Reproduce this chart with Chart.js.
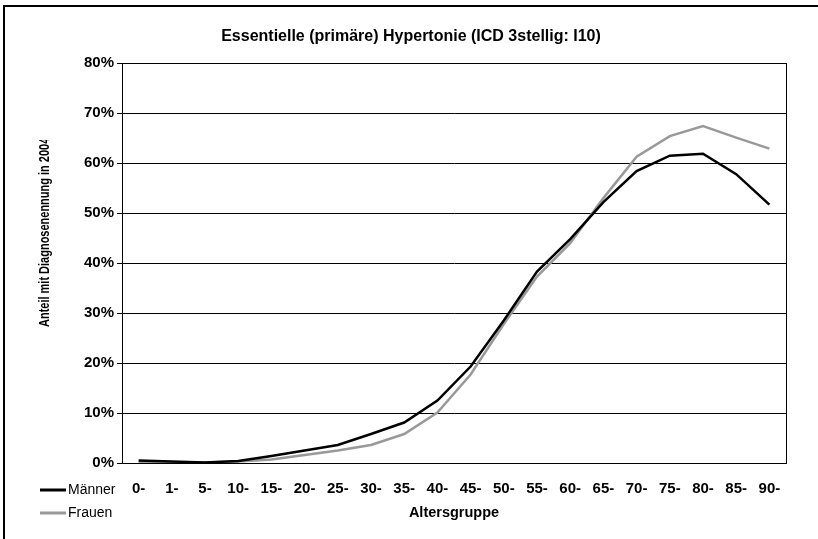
<!DOCTYPE html>
<html>
<head>
<meta charset="utf-8">
<script src="https://cdn.jsdelivr.net/npm/chart.js@4/dist/chart.umd.min.js"></script>
<style>
  body { margin: 0; background: #fff; }
  #wrap { width: 818px; height: 539px; }
</style>
</head>
<body>
<div id="wrap"><canvas id="lineChartHypertonie" width="818" height="539"></canvas></div>
<script>
// data (percent)
const altersgruppen = ['0-', '1-', '5-', '10-', '15-', '20-', '25-', '30-', '35-', '40-',
                       '45-', '50-', '55-', '60-', '65-', '70-', '75-', '80-', '85-', '90-'];
const maenner = [0.5, 0.3, 0.1, 0.4, 1.4, 2.5, 3.6, 5.8, 8.1, 12.5,
                 19.3, 28.5, 38.3, 44.8, 52.2, 58.4, 61.5, 61.9, 57.8, 51.7];
const frauen = [0.2, 0.1, 0.1, 0.3, 0.7, 1.6, 2.5, 3.6, 5.8, 10.1,
                17.7, 27.8, 37.3, 44.0, 53.0, 61.3, 65.4, 67.4, 65.1, 62.9];
const yTicks = [0, 10, 20, 30, 40, 50, 60, 70, 80];

const chartTitle = 'Essentielle (primäre) Hypertonie (ICD 3stellig: I10)';
const yTitle = 'Anteil mit Diagnosenennung in 2004';
const xTitle = 'Altersgruppe';

const font = "'Liberation Sans', Arial, sans-serif";

// outer frame, plot border, y title and the little legend bottom left
let extras = {
    id: 'extras',
    beforeDraw: function (chart) {
        let ctx = chart.ctx;
        ctx.save();
        ctx.fillStyle = '#fff';
        ctx.fillRect(0, 0, chart.width, chart.height);
        ctx.strokeStyle = '#000';
        ctx.lineWidth = 2;
        ctx.strokeRect(4, 6, chart.width + 20, chart.height + 20);
        ctx.restore();
    },
    afterDraw: function (chart) {
        let ctx = chart.ctx;
        let a = chart.chartArea;
        ctx.save();
        ctx.strokeStyle = '#000';
        ctx.lineWidth = 1;
        ctx.strokeRect(Math.round(a.left) + 0.5, Math.round(a.top) + 0.5,
            Math.round(a.right - a.left), Math.round(a.bottom - a.top));

        // y axis title (narrow, cut off at the top like in the original)
        ctx.beginPath();
        ctx.rect(0, 140, 120, 300);
        ctx.clip();
        ctx.font = 'bold 14px ' + font;
        ctx.fillStyle = '#000';
        ctx.translate(45, 327);
        ctx.rotate(-Math.PI / 2);
        ctx.scale(0.785, 1);
        ctx.textAlign = 'left';
        ctx.textBaseline = 'middle';
        ctx.fillText(yTitle, 0, 0);
        ctx.restore();

        // legend
        ctx.save();
        ctx.font = '14px ' + font;
        ctx.textBaseline = 'middle';
        chart.data.datasets.forEach(function (ds, i) {
            let y = 490 + i * 23;
            ctx.strokeStyle = ds.borderColor;
            ctx.lineWidth = 3;
            ctx.beginPath();
            ctx.moveTo(40, y);
            ctx.lineTo(66, y);
            ctx.stroke();
            ctx.fillStyle = '#000';
            ctx.fillText(ds.label, 68, y);
        });
        ctx.restore();
    }
};

var ctxL = document.getElementById('lineChartHypertonie').getContext('2d');
var myLineChart = new Chart(ctxL, {
    type: 'line',
    data: {
        labels: altersgruppen,
        datasets: [{
            label: 'Männer',
            data: maenner,
            borderColor: '#000000',
            borderWidth: 2.5,
            pointRadius: 0,
            tension: 0
        }, {
            label: 'Frauen',
            data: frauen,
            borderColor: '#999999',
            borderWidth: 2.5,
            pointRadius: 0,
            tension: 0
        }]
    },
    options: {
        responsive: false,
        animation: false,
        layout: { padding: { left: 36, right: 32, top: 0, bottom: 0 } },
        plugins: {
            legend: { display: false },
            tooltip: { enabled: false },
            title: {
                display: true,
                text: chartTitle,
                color: '#000',
                font: { family: font, size: 16, weight: 'bold' },
                padding: { top: 27, bottom: 17 }
            }
        },
        scales: {
            x: {
                offset: true,
                grid: { display: false, drawTicks: false },
                border: { display: true, color: '#000', width: 1 },
                ticks: {
                    color: '#000',
                    padding: 17,
                    maxRotation: 0,
                    autoSkip: false,
                    font: { family: font, size: 15, weight: 'bold' }
                },
                title: {
                    display: true,
                    text: xTitle,
                    color: '#000',
                    font: { family: font, size: 14.5, weight: 'bold' },
                    padding: { top: 0, bottom: 17 }
                },
                afterFit: function (scale) { scale.height = 76; }
            },
            y: {
                min: 0,
                max: 80,
                afterBuildTicks: function (scale) {
                    scale.ticks = yTicks.map(function (v) { return { value: v }; });
                },
                grid: { color: '#000', lineWidth: 1, drawTicks: true, tickLength: 5 },
                border: { display: true, color: '#000', width: 1 },
                ticks: {
                    color: '#000',
                    padding: 3,
                    font: { family: font, size: 15, weight: 'bold' },
                    callback: function (v) { return v + '%'; }
                },
                afterFit: function (scale) { scale.width = 86; }
            }
        }
    },
    plugins: [extras]
});
</script>
</body>
</html>
